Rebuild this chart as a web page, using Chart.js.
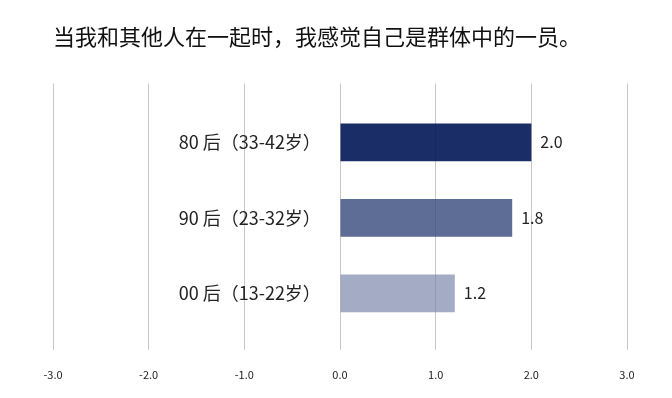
<!DOCTYPE html>
<html>
<head>
<meta charset="utf-8">
<script src="https://cdn.jsdelivr.net/npm/chart.js@4.4.0/dist/chart.umd.min.js"></script>
<style>
  html, body { margin: 0; padding: 0; background: #fff; }
  #wrap { width: 672px; height: 398px; }
</style>
</head>
<body>
<div id="wrap"><canvas id="myChart" width="672" height="398"></canvas></div>
<script>
const categories = ['80 后（33-42岁）', '90 后（23-32岁）', '00 后（13-22岁）'];
const values = [2.0, 1.8, 1.2];
const barColors = ['rgba(2, 22, 85, 0.9)', 'rgba(55, 75, 125, 0.81)', 'rgba(120, 132, 168, 0.68)'];
const xTicks = [-3, -2, -1, 0, 1, 2, 3];

const FONT = '"Noto Sans CJK SC", "Noto Sans", sans-serif';

// value labels to the right of each bar
const valueLabels = {
    id: 'valueLabels',
    afterDatasetsDraw(chart) {
        const ctx = chart.ctx;
        const meta = chart.getDatasetMeta(0);
        ctx.save();
        ctx.font = '16px ' + FONT;
        ctx.fillStyle = '#222';
        ctx.textAlign = 'left';
        ctx.textBaseline = 'middle';
        meta.data.forEach((bar, i) => {
            ctx.fillText(values[i].toFixed(1), bar.x + 9, bar.y);
        });
        ctx.restore();
    }
};

const data = {
    datasets: [{
        data: values.map((v, i) => ({ x: v, y: i })),
        backgroundColor: barColors,
        borderWidth: 0,
        barPercentage: 0.5,
        categoryPercentage: 1
    }]
};

const config = {
    type: 'bar',
    data,
    plugins: [valueLabels],
    options: {
        indexAxis: 'y',
        responsive: false,
        animation: false,
        layout: { padding: { top: 23, left: 53, right: 45, bottom: 17 } },
        plugins: {
            legend: { display: false },
            tooltip: { enabled: false },
            title: {
                display: true,
                text: '当我和其他人在一起时，我感觉自己是群体中的一员。',
                align: 'start',
                color: '#111',
                font: { family: FONT, size: 22, weight: 'normal' },
                padding: { top: 0, bottom: 34 }
            }
        },
        scales: {
            x: {
                type: 'linear',
                min: -3,
                max: 3,
                afterBuildTicks: axis => { axis.ticks = xTicks.map(v => ({ value: v })); },
                afterFit: axis => { axis.height = 31; },
                grid: { color: '#c8c8c8', lineWidth: 1, drawTicks: false },
                border: { display: false },
                ticks: {
                    padding: 18,
                    color: '#222',
                    font: { family: FONT, size: 11 },
                    callback: v => v.toFixed(1)
                }
            },
            y: {
                type: 'linear',
                // labels sit inside the plot, just left of zero
                position: { x: -0.2 },
                reverse: true,
                offset: false,
                min: -0.78,
                max: 2.75,
                afterBuildTicks: axis => { axis.ticks = categories.map((c, i) => ({ value: i })); },
                grid: { display: false, drawTicks: false },
                border: { display: false },
                ticks: {
                    padding: 0,
                    color: '#222',
                    font: { family: FONT, size: 18 },
                    callback: v => categories[v]
                }
            }
        }
    }
};

const myChart = new Chart(document.getElementById('myChart'), config);
</script>
</body>
</html>
